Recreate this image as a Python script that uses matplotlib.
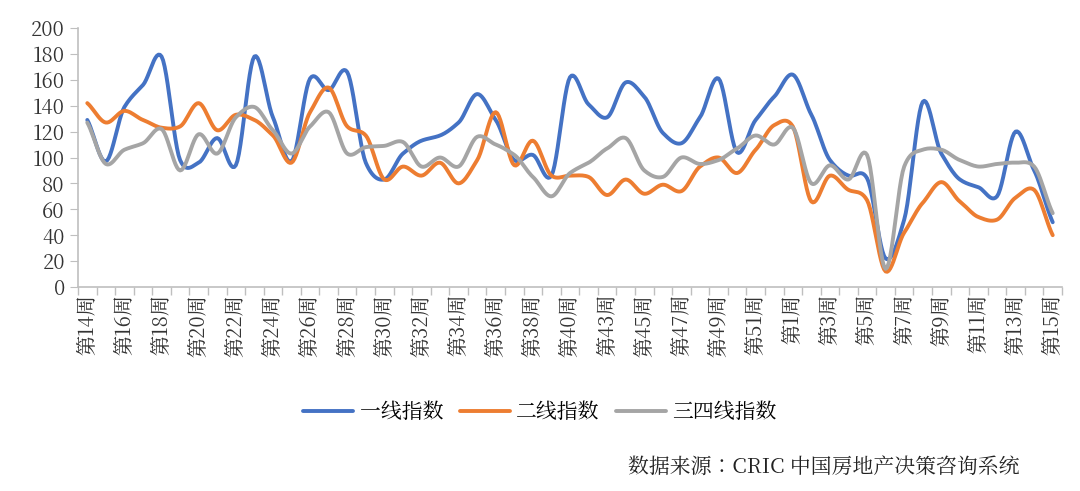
import numpy as np
import matplotlib
matplotlib.use("Agg")
import matplotlib.pyplot as plt

plt.rcParams["font.family"] = ["Noto Serif CJK JP", "Noto Sans CJK JP", "DejaVu Sans"]

weeks = [f"第{w}周" for w in range(14, 41)] + ["第42周"] + [f"第{w}周" for w in range(43, 53)] + [f"第{w}周" for w in range(1, 16)]
tier1 = [129, 97, 139, 156, 178, 98, 96, 115, 94, 178, 131, 97, 161, 152, 166, 96, 83, 103, 113, 117, 127, 149, 129, 98, 102, 86,
         162, 141, 131, 158, 147, 119, 111, 131, 161, 104, 129, 147, 164, 133, 98, 86, 84, 22, 52, 143, 103, 83, 77, 70, 120, 90, 50]
tier2 = [142, 127, 136, 129, 123, 124, 142, 121, 133, 129, 117, 96, 135, 154, 124, 117, 83, 93, 86, 96, 80, 98, 135, 94, 113, 86,
         86, 85, 71, 83, 72, 79, 74, 93, 100, 88, 106, 125, 124, 66, 86, 75, 67, 12, 42, 65, 81, 66, 54, 52, 69, 75, 40]
tier34 = [127, 95, 106, 111, 122, 90, 118, 103, 131, 139, 121, 103, 124, 135, 103, 108, 109, 112, 93, 100, 93, 116, 110, 102, 85, 70,
          88, 96, 107, 115, 90, 85, 100, 95, 98, 107, 117, 110, 123, 80, 94, 83, 102, 14, 93, 106, 106, 98, 93, 95, 96, 93, 57]
series = [("一线指数", tier1, "#4472C4"), ("二线指数", tier2, "#ED7D31"), ("三四线指数", tier34, "#A5A5A5")]


def smooth(y, n=12):
    y = np.asarray(y, float)
    x = np.arange(len(y))
    m = np.gradient(y) * 0.8
    xs, ys = [], []
    for i in range(len(y) - 1):
        t = np.linspace(0, 1, n, endpoint=False)
        h00 = 2 * t**3 - 3 * t**2 + 1
        h10 = t**3 - 2 * t**2 + t
        h01 = -2 * t**3 + 3 * t**2
        h11 = t**3 - t**2
        xs.append(x[i] + t)
        ys.append(h00 * y[i] + h10 * m[i] + h01 * y[i + 1] + h11 * m[i + 1])
    xs.append([x[-1]]); ys.append([y[-1]])
    return np.concatenate(xs), np.concatenate(ys)


fig = plt.figure(figsize=(10.8, 4.91), dpi=100)
ax = fig.add_axes([78 / 1080, 1 - 287 / 491, (1062 - 78) / 1080, (287 - 28) / 491])
for name, vals, c in series:
    xs, ys = smooth(vals)
    ax.plot(xs, ys, color=c, lw=2.8, label=name, solid_capstyle="round")

n = len(weeks)
ax.set_xlim(-0.5, n - 0.5)
ax.set_ylim(0, 200)
ax.set_yticks(range(0, 201, 20))
ax.set_xticks(range(0, n, 2))
ax.set_xticklabels(weeks[::2], rotation=90, fontsize=14.5, color="#333333")
ax.set_xticks(np.arange(-0.5, n, 1), minor=True)
ax.tick_params(axis="x", which="major", length=0, pad=5)
ax.tick_params(axis="x", which="minor", length=6, color="#BFBFBF", width=1)
ax.tick_params(axis="y", length=6, color="#BFBFBF", labelsize=14.5, labelcolor="#333333")
for s in ["top", "right"]:
    ax.spines[s].set_visible(False)
for s in ["left", "bottom"]:
    ax.spines[s].set_color("#BFBFBF")
    ax.spines[s].set_linewidth(1.2)

fig.legend(loc="center", bbox_to_anchor=(0.5, 1 - 412 / 491), ncol=3, frameon=False,
           fontsize=15, handlelength=2.4, columnspacing=0.8, handletextpad=0.3)
fig.text(1020 / 1080, 1 - 467 / 491, "数据来源：CRIC 中国房地产决策咨询系统", ha="right", va="center", fontsize=15, color="#222222")
fig.savefig("out.png", dpi=100)
